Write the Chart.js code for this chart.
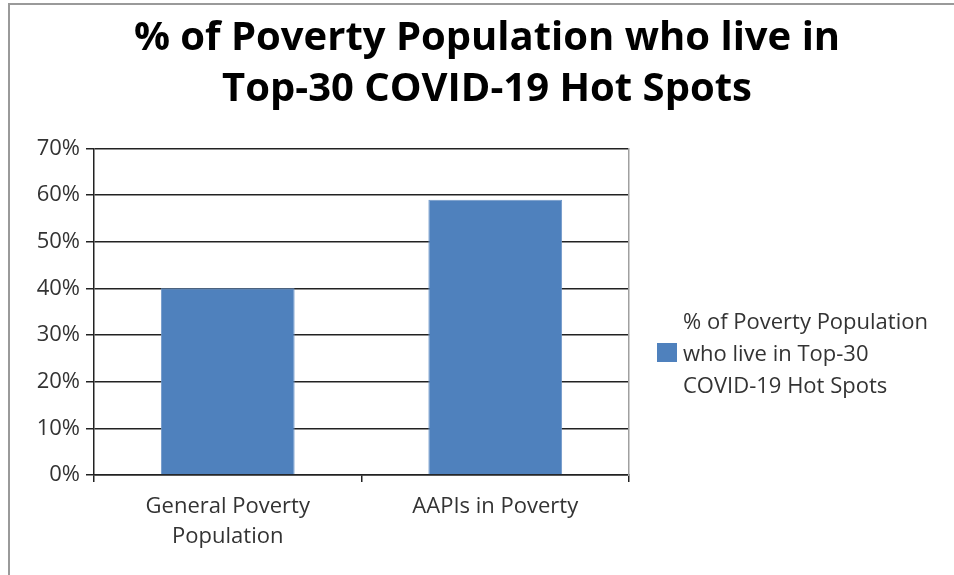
<!DOCTYPE html>
<html><head><meta charset="utf-8">
<script src="https://cdn.jsdelivr.net/npm/chart.js@4"></script>
<style>
html,body{margin:0;padding:0;background:#fff;}
#wrap{position:relative;width:954px;height:575px;overflow:hidden;background:#fff;}
#frame{position:absolute;left:8px;top:3px;width:980px;height:600px;border-top:2px solid #9a9a9a;border-left:2px solid #9a9a9a;}
canvas{position:absolute;left:0;top:0;}
#legend{position:absolute;left:657px;top:304px;display:flex;align-items:center;font-family:'Open Sans',sans-serif;font-size:22px;line-height:32px;color:#333;}
#legend .box{width:20px;height:19px;background:#4F81BD;margin-right:6px;}
</style></head>
<body>
<div id="wrap">
<div id="frame"></div>
<canvas id="c" width="954" height="575"></canvas>
<div id="legend"><div class="box"></div><div id="legtext"></div></div>
</div>
<script>
const titleLines = ['% of Poverty Population who live in', 'Top-30 COVID-19 Hot Spots'];
const categories = [['General Poverty', 'Population'], ['AAPIs in Poverty']];
const seriesName = ['% of Poverty Population', 'who live in Top-30', 'COVID-19 Hot Spots'];
const values = [40, 59];
const yTicks = [0, 10, 20, 30, 40, 50, 60, 70];

document.getElementById('legtext').innerHTML = seriesName.join('<br>');

new Chart(document.getElementById('c'), {
  type: 'bar',
  data: {
    labels: categories,
    datasets: [{
      label: seriesName.join(' '),
      data: values,
      backgroundColor: '#4F81BD',
      borderColor: '#6E97C8',
      borderWidth: 1,
      barPercentage: 0.5,
      categoryPercentage: 1.0
    }]
  },
  options: {
    responsive: false,
    animation: false,
    devicePixelRatio: 1,
    layout: { padding: { left: 20, right: 0, top: 0, bottom: 0 } },
    plugins: {
      legend: { display: false },
      tooltip: { enabled: false },
      title: {
        display: true,
        text: titleLines,
        color: '#000',
        font: { family: "'Open Sans', sans-serif", size: 40, weight: 'bold', lineHeight: 1.28 },
        padding: { top: 13, bottom: 33 }
      }
    },
    scales: {
      x: {
        offset: true,
        grid: { offset: true, drawOnChartArea: false, drawTicks: true, tickLength: 7, color: '#222', lineWidth: 1.5 },
        border: { display: true, color: '#222', width: 1.5 },
        ticks: { color: '#333', padding: 9, font: { family: "'Open Sans', sans-serif", size: 22, lineHeight: 1.4 } },
        afterFit(s) { s.height = 100; }
      },
      y: {
        min: 0, max: 70,
        afterBuildTicks(s) { s.ticks = yTicks.map(v => ({ value: v })); },
        grid: { color: '#222', lineWidth: 1.5, tickLength: 8 },
        border: { display: true, color: '#222', width: 1.5 },
        ticks: { color: '#333', padding: 6, callback: v => v + '%', font: { family: "'Open Sans', sans-serif", size: 22 } },
        afterFit(s) { s.width = 74; }
      },
      y2: {
        position: 'right',
        display: true,
        min: 0, max: 70,
        grid: { drawOnChartArea: false, drawTicks: false },
        border: { display: true, color: '#a0a0a0', width: 1.5 },
        ticks: { display: false },
        afterFit(s) { s.width = 325; }
      }
    }
  }
});
</script>
</body></html>
